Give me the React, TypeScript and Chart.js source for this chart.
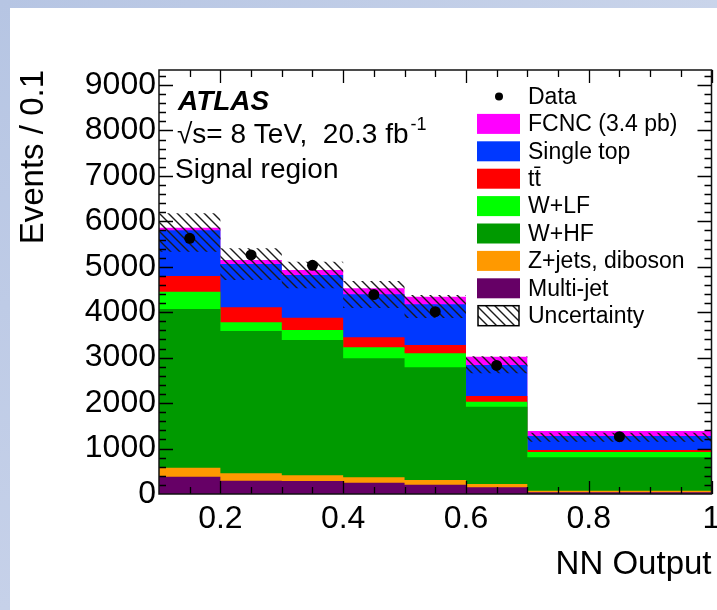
import React, { useEffect, useRef } from 'react';
import { Chart, registerables } from 'chart.js';

Chart.register(...registerables);

// ---- data (Events / 0.1) ----
const binEdges = [0.1, 0.2, 0.3, 0.4, 0.5, 0.6, 0.7, 1.0];
const multiJet = [381, 293, 286, 249, 205, 147, 37];
const zJetsDiboson = [198, 163, 126, 119, 103, 73, 36];
const wHF = [3492, 3131, 2977, 2618, 2480, 1701, 735];
const wLF = [381, 192, 220, 242, 308, 110, 116];
const ttbar = [346, 330, 271, 221, 183, 126, 44];
const singleTop = [1005, 953, 940, 946, 896, 682, 308];
const fcnc = [57, 88, 110, 132, 167, 183, 110];
const dataCounts = [5627, 5260, 5033, 4388, 4012, 2828, 1262];
const uncertUp = [6177, 5407, 5112, 4687, 4379, 3030, 1349];
const uncertDown = [5332, 4710, 4528, 4093, 3873, 2656, 1151];

const yTickValues = [0, 1000, 2000, 3000, 4000, 5000, 6000, 7000, 8000, 9000];
const yTickLabels = ['0', '1000', '2000', '3000', '4000', '5000', '6000', '7000', '8000', '9000'];
const xTickValues = [0.2, 0.4, 0.6, 0.8, 1.0];
const xTickLabels = ['0.2', '0.4', '0.6', '0.8', '1'];

const legendLabels = ['Data', 'FCNC (3.4 pb)', 'Single top', 'tt\u0304', 'W+LF', 'W+HF', 'Z+jets, diboson', 'Multi-jet', 'Uncertainty'];

const COLORS = {
  fcnc: '#ff00ff',
  singleTop: '#0038ff',
  ttbar: '#ff0000',
  wLF: '#00ff00',
  wHF: '#009a00',
  zJets: '#ff9900',
  multiJet: '#660066',
};

const FONT = '"Liberation Sans", Arial, Helvetica, sans-serif';

function makeHatch(): CanvasPattern | string {
  const s = 9;
  const c = document.createElement('canvas');
  c.width = s;
  c.height = s;
  const g = c.getContext('2d');
  if (!g) return 'rgba(0,0,0,0.3)';
  g.strokeStyle = '#1a1a1a';
  g.lineWidth = 1.4;
  g.beginPath();
  g.moveTo(-2, -2);
  g.lineTo(s + 2, s + 2);
  g.moveTo(-2, s - 2);
  g.lineTo(2, s + 2);
  g.moveTo(s - 2, -2);
  g.lineTo(s + 2, 2);
  g.stroke();
  const p = g.createPattern(c, 'repeat');
  return p || 'rgba(0,0,0,0.3)';
}

export default function App() {
  const ref = useRef<HTMLCanvasElement>(null);

  useEffect(() => {
    const canvas = ref.current;
    if (!canvas) return;
    const hatch = makeHatch();
    const nBins = binEdges.length - 1;

    const layers = [
      { label: 'Multi-jet', values: multiJet, color: COLORS.multiJet },
      { label: 'Z+jets, diboson', values: zJetsDiboson, color: COLORS.zJets },
      { label: 'W+HF', values: wHF, color: COLORS.wHF },
      { label: 'W+LF', values: wLF, color: COLORS.wLF },
      { label: 'tt\u0304', values: ttbar, color: COLORS.ttbar },
      { label: 'Single top', values: singleTop, color: COLORS.singleTop },
      { label: 'FCNC (3.4 pb)', values: fcnc, color: COLORS.fcnc },
    ];
    const cum: number[][] = [];
    let run: number[] = new Array(nBins).fill(0);
    layers.forEach((l) => {
      run = run.map((r, i) => r + l.values[i]);
      cum.push(run);
    });

    const stepPts = (vals: number[]) =>
      binEdges.map((x, i) => ({ x, y: vals[Math.min(i, vals.length - 1)] }));
    const centers = dataCounts.map((_, i) => (binEdges[i] + binEdges[i + 1]) / 2);

    const datasets: any[] = [];
    datasets.push({
      label: 'Data',
      data: centers.map((x, i) => ({ x, y: dataCounts[i] })),
      showLine: false,
      pointRadius: 5.5,
      pointBackgroundColor: '#000',
      pointBorderColor: '#000',
      pointBorderWidth: 0,
      order: 0,
    });
    datasets.push({
      label: 'unc-low',
      data: stepPts(uncertDown),
      stepped: true,
      borderWidth: 0,
      pointRadius: 0,
      fill: false,
      order: 1,
    });
    datasets.push({
      label: 'Uncertainty',
      data: stepPts(uncertUp),
      stepped: true,
      borderWidth: 0,
      pointRadius: 0,
      fill: '-1',
      backgroundColor: hatch,
      order: 1,
    });
    layers.forEach((l, k) => {
      datasets.push({
        label: l.label,
        data: stepPts(cum[k]),
        stepped: true,
        borderWidth: 0,
        pointRadius: 0,
        fill: 'origin',
        backgroundColor: l.color,
        order: 2,
      });
    });

    const legendColors: Record<string, any> = {
      'FCNC (3.4 pb)': COLORS.fcnc,
      'Single top': COLORS.singleTop,
      'tt\u0304': COLORS.ttbar,
      'W+LF': COLORS.wLF,
      'W+HF': COLORS.wHF,
      'Z+jets, diboson': COLORS.zJets,
      'Multi-jet': COLORS.multiJet,
    };

    const decor = {
      id: 'rootDecor',
      afterDatasetsDraw(chart: any) {
        const { ctx, chartArea: a, scales } = chart;
        const xs = scales.x;
        const ys = scales.y;
        ctx.save();
        ctx.strokeStyle = '#000';
        ctx.lineWidth = 1.3;
        ctx.beginPath();
        // x ticks (minor every 0.05, major every 0.2)
        for (let k = 1; k * 0.05 + 0.1 < 1.0 + 1e-9; k++) {
          const v = 0.1 + k * 0.05;
          const major = Math.abs(v / 0.2 - Math.round(v / 0.2)) < 1e-6;
          const len = major ? 13 : 7;
          const px = Math.round(xs.getPixelForValue(v)) + 0.5;
          ctx.moveTo(px, a.bottom);
          ctx.lineTo(px, a.bottom - len);
          ctx.moveTo(px, a.top);
          ctx.lineTo(px, a.top + len);
        }
        // y ticks (minor every 200, major every 1000)
        for (let v = 200; v < ys.max; v += 200) {
          const major = v % 1000 === 0;
          const len = major ? 14 : 7;
          const py = Math.round(ys.getPixelForValue(v)) + 0.5;
          ctx.moveTo(a.left, py);
          ctx.lineTo(a.left + len, py);
          ctx.moveTo(a.right, py);
          ctx.lineTo(a.right - len, py);
        }
        ctx.stroke();
        ctx.lineWidth = 1.5;
        ctx.strokeStyle = '#111';
        ctx.strokeRect(a.left, a.top, a.right - a.left, a.bottom - a.top);

        // annotation
        ctx.fillStyle = '#000';
        ctx.textAlign = 'left';
        ctx.textBaseline = 'alphabetic';
        ctx.font = `italic bold 28px ${FONT}`;
        ctx.fillText('ATLAS', a.left + 19, a.top + 40);
        ctx.font = `28px ${FONT}`;
        const line2 = '\u221As= 8 TeV,  20.3 fb';
        ctx.fillText(line2, a.left + 18, a.top + 73);
        const w2 = ctx.measureText(line2).width;
        ctx.font = `18px ${FONT}`;
        ctx.fillText('-1', a.left + 20 + w2, a.top + 60);
        ctx.font = `28px ${FONT}`;
        ctx.fillText('Signal region', a.left + 16, a.top + 108);

        // legend
        const lx = 477;
        const ly0 = 96.5;
        const dy = 27.4;
        ctx.font = `23px ${FONT}`;
        ctx.textBaseline = 'middle';
        legendLabels.forEach((lab, i) => {
          const cy = ly0 + i * dy;
          if (lab === 'Data') {
            ctx.fillStyle = '#000';
            ctx.beginPath();
            ctx.arc(lx + 22, cy, 4, 0, Math.PI * 2);
            ctx.fill();
          } else if (lab === 'Uncertainty') {
            ctx.fillStyle = '#fff';
            ctx.fillRect(lx + 1, cy - 10, 41, 20);
            ctx.fillStyle = hatch;
            ctx.fillRect(lx + 1, cy - 10, 41, 20);
            ctx.strokeStyle = '#000';
            ctx.lineWidth = 1.5;
            ctx.strokeRect(lx + 1, cy - 10, 41, 20);
          } else {
            ctx.fillStyle = legendColors[lab];
            ctx.fillRect(lx, cy - 10, 43, 20);
          }
          ctx.fillStyle = '#000';
          ctx.fillText(lab, 528, cy + 1);
        });
        ctx.restore();
      },
    };

    const chart = new Chart(canvas, {
      type: 'line',
      data: { datasets },
      options: {
        responsive: false,
        animation: false,
        events: [],
        layout: { padding: { top: 70, right: 3, left: 0, bottom: 0 } },
        plugins: {
          legend: { display: false },
          tooltip: { enabled: false },
        },
        scales: {
          x: {
            type: 'linear',
            min: binEdges[0],
            max: binEdges[binEdges.length - 1],
            grid: { display: false, drawTicks: false },
            border: { display: false },
            afterBuildTicks: (s: any) => {
              s.ticks = xTickValues.map((v) => ({ value: v }));
            },
            afterFit: (s: any) => {
              s.height = 116;
              s.paddingLeft = 0;
              s.paddingRight = 0;
            },
            ticks: {
              autoSkip: false,
              maxRotation: 0,
              minRotation: 0,
              padding: 6,
              color: '#000',
              font: { family: FONT, size: 32 },
              callback: (_v: any, i: number) => xTickLabels[i],
            },
            title: {
              display: true,
              text: 'NN Output',
              align: 'end',
              color: '#000',
              font: { family: FONT, size: 33 },
              padding: { top: 0, bottom: 25 },
            },
          },
          y: {
            type: 'linear',
            min: 0,
            max: 9330,
            grid: { display: false, drawTicks: false },
            border: { display: false },
            afterBuildTicks: (s: any) => {
              s.ticks = yTickValues.map((v) => ({ value: v }));
            },
            afterFit: (s: any) => {
              s.width = 159;
              s.paddingTop = 0;
              s.paddingBottom = 0;
            },
            ticks: {
              padding: 3,
              color: '#000',
              font: { family: FONT, size: 32 },
              callback: (_v: any, i: number) => yTickLabels[i],
            },
            title: {
              display: true,
              text: 'Events / 0.1',
              align: 'end',
              color: '#000',
              font: { family: FONT, size: 33 },
              padding: { top: 14, bottom: 0 },
            },
          },
        },
      },
      plugins: [decor],
    } as any);

    return () => chart.destroy();
  }, []);

  return (
    <div style={{ position: 'absolute', left: 0, top: 0, width: 717, height: 610, background: '#fff', overflow: 'hidden' }}>
      <canvas ref={ref} width={717} height={610} style={{ position: 'absolute', left: 0, top: 0, width: 717, height: 610 }} />
      <div style={{ position: 'absolute', left: 0, top: 0, width: 717, height: 8, background: 'linear-gradient(90deg, #b6c5e3, #c9d4ea)' }} />
      <div style={{ position: 'absolute', left: 0, top: 0, width: 10, height: 610, background: 'linear-gradient(180deg, #b6c5e3, #c6d1e9)' }} />
    </div>
  );
}
